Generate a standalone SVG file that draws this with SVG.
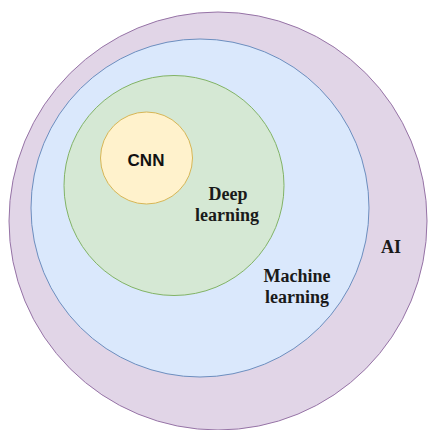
<svg xmlns="http://www.w3.org/2000/svg" width="428" height="430" viewBox="0 0 428 430">
  <style>
    .ring { stroke-width: 1; }
    .serif { font-family: "Liberation Serif", "Times New Roman", serif; font-weight: bold; font-size: 18px; fill: #1a1a1a; text-anchor: middle; }
    .sans { font-family: "Liberation Sans", Arial, sans-serif; font-weight: bold; font-size: 17px; fill: #111111; text-anchor: middle; }
  </style>
  <rect width="428" height="430" fill="#ffffff"/>
  <!-- nested sets, outermost first -->
  <g id="ai">
    <circle class="ring" cx="218" cy="221" r="209" fill="#e1d5e7" stroke="#9673a6"/>
    <text class="serif" x="391" y="253">AI</text>
  </g>
  <g id="machine-learning">
    <circle class="ring" cx="200" cy="208" r="169" fill="#dae8fc" stroke="#6c8ebf"/>
    <text class="serif" x="297" y="282">Machine</text>
    <text class="serif" x="297" y="303">learning</text>
  </g>
  <g id="deep-learning">
    <circle class="ring" cx="174" cy="185.5" r="110" fill="#d5e8d4" stroke="#82b366"/>
    <text class="serif" x="228" y="200">Deep</text>
    <text class="serif" x="227" y="221">learning</text>
  </g>
  <g id="cnn">
    <circle class="ring" cx="146.5" cy="158" r="46" fill="#fff2cc" stroke="#d6b656"/>
    <text class="sans" x="146" y="166">CNN</text>
  </g>
  <g id="connectors"/>
</svg>
